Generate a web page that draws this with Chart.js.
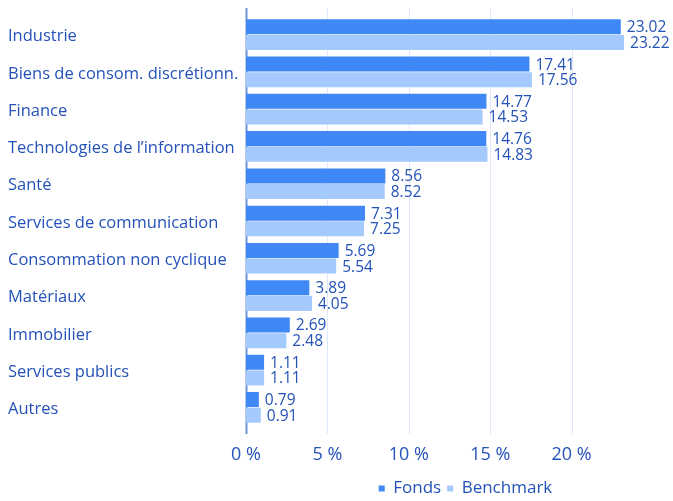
<!DOCTYPE html>
<html>
<head>
<meta charset="utf-8">
<script src="https://cdn.jsdelivr.net/npm/chart.js@4"></script>
<style>
  html, body { margin: 0; padding: 0; background: #fff; }
  #wrap { width: 673px; height: 501px; }
</style>
</head>
<body>
<div id="wrap"><canvas id="sectorChart" width="673" height="501"></canvas></div>
<script>
// Répartition sectorielle (%)
const categories = [
  'Industrie',
  'Biens de consom. discrétionn.',
  'Finance',
  'Technologies de l’information',
  'Santé',
  'Services de communication',
  'Consommation non cyclique',
  'Matériaux',
  'Immobilier',
  'Services publics',
  'Autres'
];
const fonds = [23.02, 17.41, 14.77, 14.76, 8.56, 7.31, 5.69, 3.89, 2.69, 1.11, 0.79];
const benchmark = [23.22, 17.56, 14.53, 14.83, 8.52, 7.25, 5.54, 4.05, 2.48, 1.11, 0.91];
const xTicks = [0, 5, 10, 15, 20];

const textBlue = '#2452b8';
const fontFamily = '"Open Sans", "Noto Sans", sans-serif';

// grille verticale un peu plus longue que la zone du graphique
const gridPlugin = {
  id: 'gridLines',
  beforeDatasetsDraw(chart) {
    const { ctx, chartArea } = chart;
    const x = chart.scales.x;
    ctx.save();
    xTicks.forEach(v => {
      const px = Math.round(x.getPixelForValue(v)) + 0.5;
      ctx.beginPath();
      ctx.strokeStyle = v === 0 ? '#6f93da' : '#dde9fb';
      ctx.lineWidth = v === 0 ? 2 : 1;
      ctx.moveTo(px, chartArea.top - 8);
      ctx.lineTo(px, chartArea.bottom + 8);
      ctx.stroke();
    });
    ctx.restore();
  }
};

// valeurs au bout des barres
const valuePlugin = {
  id: 'valueLabels',
  afterDatasetsDraw(chart) {
    const { ctx } = chart;
    ctx.save();
    ctx.font = '15.5px ' + fontFamily;
    ctx.fillStyle = textBlue;
    ctx.textBaseline = 'middle';
    ctx.textAlign = 'left';
    chart.data.datasets.forEach((ds, i) => {
      chart.getDatasetMeta(i).data.forEach((bar, j) => {
        ctx.fillText(ds.data[j].toFixed(2), bar.x + 6, bar.y + 1);
      });
    });
    ctx.restore();
  }
};

// légende décalée comme dans l'original
const legendShift = {
  id: 'legendShift',
  afterLayout(chart) {
    chart.legend.left += 16;
    chart.legend.right += 16;
    chart.legend.top += 6;
    chart.legend.bottom += 6;
  }
};

new Chart(document.getElementById('sectorChart'), {
  type: 'bar',
  data: {
    labels: categories,
    datasets: [
      { label: 'Fonds', data: fonds, backgroundColor: '#3f88f5' },
      { label: 'Benchmark', data: benchmark, backgroundColor: '#a3c9fd' }
    ]
  },
  options: {
    indexAxis: 'y',
    responsive: false,
    animation: false,
    devicePixelRatio: 1,
    layout: { padding: { left: 8, right: 20, top: 16, bottom: 0 } },
    datasets: { bar: { categoryPercentage: 0.84, barPercentage: 0.96 } },
    scales: {
      x: {
        min: 0,
        max: 25,
        grid: { display: false, drawTicks: false },
        border: { display: false },
        afterBuildTicks: s => { s.ticks = xTicks.map(v => ({ value: v })); },
        afterFit: s => { s.height = 42; },
        ticks: {
          color: textBlue,
          font: { family: fontFamily, size: 18 },
          padding: 18,
          callback: v => v + ' %'
        }
      },
      y: {
        grid: { display: false, drawTicks: false },
        border: { display: false },
        afterFit: s => { s.width = 238; },
        ticks: {
          color: textBlue,
          crossAlign: 'far',
          labelOffset: 2,
          font: { family: fontFamily, size: 16.5 }
        }
      }
    },
    plugins: {
      legend: {
        position: 'bottom',
        fullSize: false,
        labels: {
          color: textBlue,
          font: { family: fontFamily, size: 17 },
          usePointStyle: true,
          pointStyle: 'rect',
          boxWidth: 6,
          boxHeight: 6,
          padding: 6
        }
      },
      tooltip: { enabled: false }
    }
  },
  plugins: [gridPlugin, valuePlugin, legendShift]
});
</script>
</body>
</html>
